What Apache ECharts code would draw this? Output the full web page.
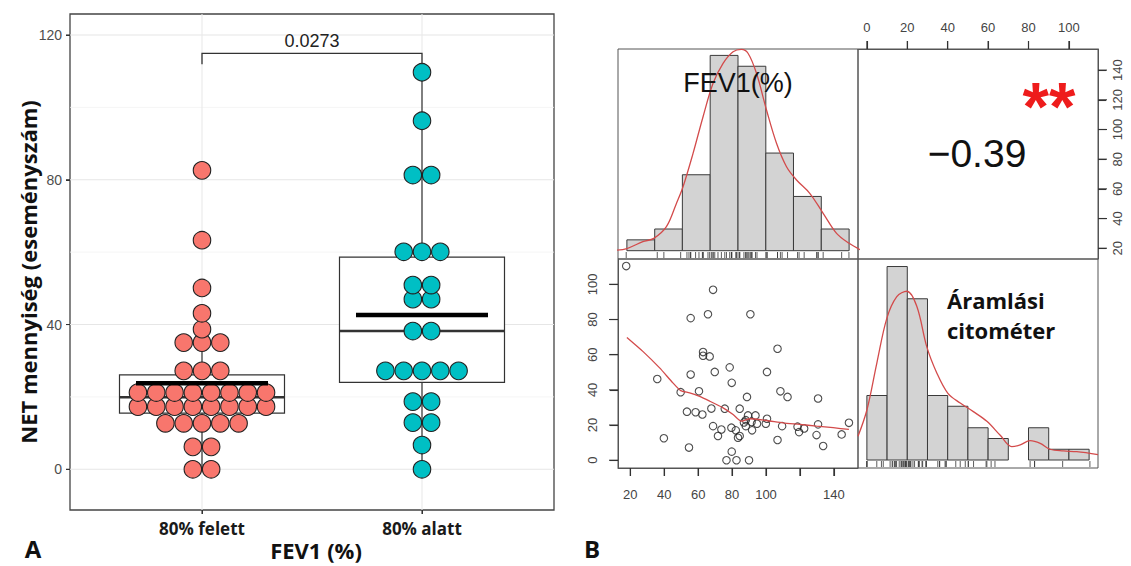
<!DOCTYPE html>
<html><head><meta charset="utf-8">
<script src="https://cdn.jsdelivr.net/npm/echarts@6/dist/echarts.min.js"></script>
<style>html,body{margin:0;padding:0;background:#fff}#c{width:1131px;height:566px}</style>
</head><body><div id="c"></div>
<script>
// ---------- Panel A data ----------
const groups = ['80% felett', '80% alatt'];
const g1Levels = [0, 6.2, 12.7, 17.3, 21.2, 27.2, 35.0, 38.7, 43.1, 50.1, 63.3, 82.6];
const g1Counts = [2, 2, 5, 8, 8, 3, 3, 1, 1, 1, 1, 1];
const g2Levels = [0, 6.7, 12.9, 18.7, 27.2, 38.2, 47.0, 50.9, 60.1, 81.3, 96.3, 109.7];
const g2Counts = [1, 1, 2, 2, 5, 2, 2, 2, 3, 2, 1, 1];
// [lower whisker, Q1, median, Q3, upper whisker]
const boxStats = [[0, 15.5, 19.9, 26.1, 43.1], [0, 24.0, 38.2, 58.6, 109.7]];
const groupMeans = [23.8, 42.6];
const pText = '0.0273';
const bracket = [114.9, 3.0]; // height, tip length
const yTicksA = [0, 40, 80, 120];
const yMinorA = [20, 60, 100];

// ---------- Panel B data ----------
const fev1 = [17.6, 68.8, 55.6, 65.8, 90.8, 106.8, 62.9, 62.9, 66.8, 78.6, 100.6, 69.8, 55.6, 35.9, 79.8, 60.5, 49.7, 108.5, 112.7, 130.7,
  88.8, 53.4, 58.5, 62.5, 67.8, 75.7, 84.5, 93.8, 89.4, 88.1, 100.6, 68.8, 73.7, 79.6, 82.2, 88.1, 94.7, 99.9, 91.8, 109.5,
  118.6, 122.5, 130.7, 148.9, 71.7, 83.5, 84.5, 39.8, 106.8, 119.5, 129.8, 144.6, 54.6, 133.7, 79.8, 76.7, 82.6, 90.0, 87.0, 91.5];
const net = [110.4, 96.9, 80.8, 83.0, 83.0, 63.4, 61.5, 59.4, 59.0, 52.8, 50.2, 50.2, 48.7, 46.2, 44.0, 39.2, 38.7, 39.2, 36.0, 35.1,
  36.0, 27.6, 27.3, 26.0, 29.4, 29.3, 29.3, 25.5, 25.5, 22.8, 23.6, 19.4, 17.5, 18.5, 17.0, 19.4, 20.8, 20.8, 17.0, 19.4,
  19.1, 18.1, 20.4, 21.3, 13.8, 12.8, 13.8, 12.5, 11.5, 16.0, 14.3, 14.7, 7.2, 8.1, 4.9, 0, 0, 0, 21.5, 21.8];
const fevBreaks = [18, 34.4, 50.7, 67.1, 83.5, 99.9, 116.2, 132.6, 149];
const fevCounts = [1, 2, 7, 18, 17, 9, 5, 2];
const netBreaks = [0, 10, 20, 30, 40, 50, 60, 70, 80, 90, 100, 110];
const netCounts = [6, 18, 15, 6, 5, 3, 2, 0, 3, 1, 1];
const fevDensity = [[11.7, 0.05], [18.0, 0.2], [27.4, 0.83], [33.9, 1.14], [41.3, 2.21], [47.2, 4.36], [51.1, 5.89], [57.0, 8.97],
  [62.9, 12.35], [68.8, 15.43], [74.7, 17.27], [80.6, 18.34], [85.5, 18.56], [89.4, 18.2], [94.4, 16.35], [100.3, 12.97],
  [106.2, 9.9], [112.1, 7.74], [118.0, 6.52], [125.8, 5.29], [133.7, 3.45], [141.6, 1.6], [149.0, 0.68], [155.4, 0.1]];
const netDensity = [[-4.4, 2.2], [0, 4.65], [4.9, 9.0], [9.9, 13.2], [14.8, 15.2], [19.8, 15.7], [24.7, 14.3], [29.7, 10.5],
  [34.6, 8.1], [40.1, 6.2], [46.2, 5.3], [52.7, 4.5], [59.4, 3.6], [66, 2.3], [71.7, 1.24], [75.9, 1.4], [80.8, 1.8],
  [85.8, 1.55], [90.7, 1.0], [97.3, 0.84], [103.9, 0.77], [114.4, 0.5]];
const loess = [[18.0, 69.8], [27.4, 61.9], [37.3, 52.5], [45.1, 44.0], [49.7, 39.6], [55.0, 38.3], [60.5, 36.4], [66.8, 33.6],
  [74.7, 29.8], [80.6, 26.0], [85.5, 22.2], [90.4, 23.6], [100.3, 22.6], [110.1, 21.3], [119.9, 20.4], [129.8, 19.4],
  [139.6, 18.5], [148.9, 17.5]];
const corrText = '\u22120.39';
const corrStars = '**';
const fevTicks = [20, 40, 60, 80, 100, 120, 140];
const fevLabels = [20, 40, 60, 80, 100, 140];
const netTicks = [0, 20, 40, 60, 80, 100];
const fevRightTicks = [20, 40, 60, 80, 100, 120, 140];

// ---------- styling / layout ----------
const FEV_RANGE = [12.76, 154.24];
const NET_RANGE = [-4.4, 114.4];
const dotColors = ['#F8766D', '#00BFC4'];
const DOT_D = 18.3;
const RED = '#d34b4b';
const BOLD = '"Open Sans", sans-serif';
const tickFont = { fontFamily: 'Liberation Sans', fontSize: 13, color: '#444' };
const tickStyleB = { show: true, inside: false, length: 8, lineStyle: { color: '#333', width: 1.1 } };
const noLine = { show: false, onZero: false };
const lineB = { show: true, onZero: false, lineStyle: { color: '#555', width: 1 } };

const chart = echarts.init(document.getElementById('c'), null, { renderer: 'svg', width: 1131, height: 566 });

const dotData = [];
g1Levels.forEach((v, i) => dotData.push([1, v, g1Counts[i]]));
g2Levels.forEach((v, i) => dotData.push([2, v, g2Counts[i]]));

const gridLineData = [];
yTicksA.forEach(v => gridLineData.push([1.5, v, 0]));
yMinorA.forEach(v => gridLineData.push([1.5, v, 1]));
groups.forEach((g, i) => gridLineData.push([i + 1, 0, 2]));

function histData(breaks, counts) {
  const d = [];
  counts.forEach((c, i) => { if (c > 0) d.push([(breaks[i] + breaks[i + 1]) / 2, c, breaks[i], breaks[i + 1]]); });
  return d;
}
function histRender(params, api) {
  const p0 = api.coord([api.value(2), 0]);
  const p1 = api.coord([api.value(3), api.value(1)]);
  return { type: 'rect', shape: { x: p0[0], y: p1[1], width: p1[0] - p0[0], height: p0[1] - p1[1] },
    style: { fill: '#d3d3d3', stroke: '#3a3a3a', lineWidth: 1 } };
}
function rugRender(params, api) {
  const p = api.coord([api.value(0), 0]);
  const cs = params.coordSys;
  const yb = cs.y + cs.height;
  return { type: 'line', shape: { x1: p[0], y1: yb - 1, x2: p[0], y2: yb - 7 }, style: { stroke: '#333', lineWidth: 0.8 } };
}
// outward tick marks along one side of a grid, at axis values (reinforces the axis ticks)
function tickSeries(gi, side, values, len, color) {
  const isX = side === 'top' || side === 'bottom';
  return { type: 'custom', xAxisIndex: gi, yAxisIndex: gi, z: 5, silent: true, clip: false,
    data: values.map(v => [v]),
    renderItem: (params, api) => {
      const cs = params.coordSys;
      const v = api.value(0);
      if (isX) {
        const px = api.coord([v, isX ? 0 : v])[0];
        const y0 = side === 'top' ? cs.y : cs.y + cs.height;
        const y1 = side === 'top' ? y0 - len : y0 + len;
        return { type: 'line', shape: { x1: px, y1: y0, x2: px, y2: y1 }, style: { stroke: color, lineWidth: 1.1 } };
      }
      const py = api.coord([0, v])[1];
      const x0 = side === 'left' ? cs.x : cs.x + cs.width;
      const x1 = side === 'left' ? x0 - len : x0 + len;
      return { type: 'line', shape: { x1: x0, y1: py, x2: x1, y2: py }, style: { stroke: color, lineWidth: 1.1 } };
    } };
}
function hiddenAxis(gi, range) {
  return { gridIndex: gi, type: 'value', min: range[0], max: range[1], show: false, axisLine: noLine, splitLine: { show: false } };
}
function txt(x, y, text, font, opts) {
  opts = opts || {};
  const al = opts.align || 'center';
  const el = { type: 'text', x: x, y: y, z: 100,
    style: { text: text, textAlign: al, textVerticalAlign: 'middle', align: al, verticalAlign: 'middle', font: font, fill: opts.fill || '#111' } };
  if (opts.rotation) el.rotation = opts.rotation;
  return el;
}
function ticksB(vals) { return Object.assign({ customValues: vals }, tickStyleB); }

const option = {
  backgroundColor: '#fff',
  animation: false,
  grid: [
    { left: 70, top: 14, width: 484, height: 496, show: true, borderColor: '#444', borderWidth: 1.3, backgroundColor: 'transparent' },
    { left: 618, top: 49, width: 240, height: 210, show: true, borderColor: '#555', borderWidth: 1 },
    { left: 858, top: 49, width: 240, height: 210, show: true, borderColor: '#555', borderWidth: 1 },
    { left: 618, top: 259, width: 240, height: 209, show: true, borderColor: '#555', borderWidth: 1 },
    { left: 858, top: 259, width: 240, height: 209, show: true, borderColor: '#555', borderWidth: 1 }
  ],
  xAxis: [
    { gridIndex: 0, type: 'value', min: 0.4, max: 2.6, axisLine: noLine, splitLine: { show: false },
      axisTick: { show: true, customValues: [1, 2], length: 4, lineStyle: { color: '#333' } },
      axisLabel: { customValues: [1, 2], formatter: v => groups[Math.round(v) - 1], margin: 10,
        fontFamily: BOLD, fontWeight: 'bold', fontSize: 17, color: '#1a1a1a' } },
    hiddenAxis(1, FEV_RANGE),
    { gridIndex: 2, type: 'value', position: 'top', min: NET_RANGE[0], max: NET_RANGE[1], axisLine: lineB, splitLine: { show: false },
      axisTick: ticksB(netTicks),
      axisLabel: Object.assign({ customValues: netTicks, margin: 15 }, tickFont) },
    { gridIndex: 3, type: 'value', position: 'bottom', min: FEV_RANGE[0], max: FEV_RANGE[1], axisLine: lineB, splitLine: { show: false },
      axisTick: ticksB(fevTicks),
      axisLabel: Object.assign({ customValues: fevLabels, margin: 20 }, tickFont) },
    hiddenAxis(4, NET_RANGE)
  ],
  yAxis: [
    { gridIndex: 0, type: 'value', min: -11.25, max: 125.8, axisLine: noLine, splitLine: { show: false },
      axisTick: { show: true, customValues: yTicksA, length: 4, lineStyle: { color: '#333' } },
      axisLabel: { customValues: yTicksA, margin: 8, fontFamily: 'Liberation Sans', fontSize: 14, color: '#4d4d4d' } },
    hiddenAxis(1, [-0.765, 18.59]),
    { gridIndex: 2, type: 'value', position: 'right', min: FEV_RANGE[0], max: FEV_RANGE[1], axisLine: lineB, splitLine: { show: false },
      axisTick: ticksB(fevRightTicks),
      axisLabel: Object.assign({ customValues: fevRightTicks, margin: 13, rotate: 90 }, tickFont) },
    { gridIndex: 3, type: 'value', position: 'left', min: NET_RANGE[0], max: NET_RANGE[1], axisLine: lineB, splitLine: { show: false },
      axisTick: ticksB(netTicks),
      axisLabel: Object.assign({ customValues: netTicks, margin: 19, rotate: 90 }, tickFont) },
    hiddenAxis(4, [-0.744, 18.70])
  ],
  series: [
    // panel A grid lines
    { type: 'custom', xAxisIndex: 0, yAxisIndex: 0, z: 1, silent: true, data: gridLineData,
      renderItem: (params, api) => {
        const kind = api.value(2);
        const cs = params.coordSys;
        if (kind === 2) {
          const p = api.coord([api.value(0), 0]);
          return { type: 'line', shape: { x1: p[0], y1: cs.y, x2: p[0], y2: cs.y + cs.height }, style: { stroke: '#e9e9e9', lineWidth: 1.1 } };
        }
        const p = api.coord([1.5, api.value(1)]);
        return { type: 'line', shape: { x1: cs.x, y1: p[1], x2: cs.x + cs.width, y2: p[1] },
          style: { stroke: kind === 0 ? '#e6e6e6' : '#f2f2f2', lineWidth: kind === 0 ? 1.1 : 0.8 } };
      } },
    // boxes
    { type: 'custom', xAxisIndex: 0, yAxisIndex: 0, z: 2, silent: true,
      data: boxStats.map((s, i) => [i + 1].concat(s)),
      renderItem: (params, api) => {
        const x = api.value(0);
        const c = api.coord([x, api.value(3)]);
        const lw = api.coord([x, api.value(1)]), q1 = api.coord([x, api.value(2)]);
        const q3 = api.coord([x, api.value(4)]), uw = api.coord([x, api.value(5)]);
        const half = api.size([0.75, 0])[0] / 2;
        const st = { stroke: '#333', lineWidth: 1.2 };
        return { type: 'group', children: [
          { type: 'line', shape: { x1: c[0], y1: q3[1], x2: c[0], y2: uw[1] }, style: st },
          { type: 'line', shape: { x1: c[0], y1: q1[1], x2: c[0], y2: lw[1] }, style: st },
          { type: 'rect', shape: { x: c[0] - half, y: q3[1], width: 2 * half, height: q1[1] - q3[1] }, style: { fill: '#fff', stroke: '#333', lineWidth: 1.2 } },
          { type: 'line', shape: { x1: c[0] - half, y1: c[1], x2: c[0] + half, y2: c[1] }, style: { stroke: '#333', lineWidth: 2.4 } }
        ] };
      } },
    // dots
    { type: 'custom', xAxisIndex: 0, yAxisIndex: 0, z: 3, silent: true, data: dotData,
      renderItem: (params, api) => {
        const g = api.value(0), n = api.value(2);
        const c = api.coord([g, api.value(1)]);
        const ch = [];
        for (let i = 0; i < n; i++) {
          ch.push({ type: 'circle', shape: { cx: c[0] + (i - (n - 1) / 2) * DOT_D, cy: c[1], r: DOT_D / 2 - 0.4 },
            style: { fill: dotColors[g - 1], stroke: '#222', lineWidth: 1.1 } });
        }
        return { type: 'group', children: ch };
      } },
    // means
    { type: 'custom', xAxisIndex: 0, yAxisIndex: 0, z: 4, silent: true,
      data: groupMeans.map((m, i) => [i + 1, m]),
      renderItem: (params, api) => {
        const c = api.coord([api.value(0), api.value(1)]);
        const half = api.size([0.6, 0])[0] / 2;
        return { type: 'line', shape: { x1: c[0] - half, y1: c[1], x2: c[0] + half, y2: c[1] }, style: { stroke: '#000', lineWidth: 4.5 } };
      } },
    // significance bracket
    { type: 'custom', xAxisIndex: 0, yAxisIndex: 0, z: 4, silent: true,
      data: [[1, bracket[0], 2, bracket[1]]],
      renderItem: (params, api) => {
        const a = api.coord([api.value(0), api.value(1)]);
        const b = api.coord([api.value(2), api.value(1)]);
        const t = api.coord([api.value(0), api.value(1) - api.value(3)]);
        return { type: 'group', children: [
          { type: 'polyline', shape: { points: [[a[0], t[1]], [a[0], a[1]], [b[0], b[1]], [b[0], t[1]]] }, style: { stroke: '#333', lineWidth: 1.3, fill: null } },
          { type: 'text', x: (a[0] + b[0]) / 2, y: a[1] - 3,
            style: { text: pText, textAlign: 'center', textVerticalAlign: 'bottom', align: 'center', verticalAlign: 'bottom',
              font: '18px "Liberation Sans"', fill: '#222' } }
        ] };
      } },
    tickSeries(0, 'left', yTicksA, 4, '#333'),
    tickSeries(0, 'bottom', [1, 2], 4, '#333'),
    // FEV1 histogram
    { type: 'custom', xAxisIndex: 1, yAxisIndex: 1, z: 2, silent: true, data: histData(fevBreaks, fevCounts), renderItem: histRender },
    { type: 'line', xAxisIndex: 1, yAxisIndex: 1, z: 3, silent: true, data: fevDensity, smooth: 0.35, showSymbol: false,
      lineStyle: { color: RED, width: 1.3 } },
    { type: 'custom', xAxisIndex: 1, yAxisIndex: 1, z: 3, silent: true, data: fev1.map(v => [v, 0]), renderItem: rugRender },
    // correlation panel ticks
    tickSeries(2, 'top', netTicks, 8, '#333'),
    tickSeries(2, 'right', fevRightTicks, 9, '#333'),
    // scatter
    { type: 'scatter', xAxisIndex: 3, yAxisIndex: 3, z: 2, silent: true, data: fev1.map((v, i) => [v, net[i]]),
      symbol: 'circle', symbolSize: 7.5, itemStyle: { color: 'rgba(0,0,0,0)', borderColor: '#222', borderWidth: 1.1 } },
    { type: 'line', xAxisIndex: 3, yAxisIndex: 3, z: 3, silent: true, data: loess, smooth: 0.2, showSymbol: false,
      lineStyle: { color: RED, width: 1.3 } },
    tickSeries(3, 'bottom', fevTicks, 8, '#333'),
    tickSeries(3, 'left', netTicks, 9, '#333'),
    // NET histogram
    { type: 'custom', xAxisIndex: 4, yAxisIndex: 4, z: 2, silent: true, data: histData(netBreaks, netCounts), renderItem: histRender },
    { type: 'line', xAxisIndex: 4, yAxisIndex: 4, z: 3, silent: true, data: netDensity, smooth: 0.35, showSymbol: false,
      lineStyle: { color: RED, width: 1.3 } },
    { type: 'custom', xAxisIndex: 4, yAxisIndex: 4, z: 3, silent: true, data: net.map(v => [v, 0]), renderItem: rugRender }
  ],
  graphic: [
    txt(28, 272, 'NET mennyiség (eseményszám)', 'bold 22px ' + BOLD, { rotation: Math.PI / 2 }),
    txt(316, 550, 'FEV1 (%)', 'bold 22px ' + BOLD),
    txt(33, 548, 'A', 'bold 24px ' + BOLD),
    txt(592, 548, 'B', 'bold 24px ' + BOLD),
    txt(738, 83, 'FEV1(%)', '27px "Liberation Sans"'),
    txt(977, 153, corrText, '39px "Liberation Sans"'),
    txt(1049, 106, corrStars, 'bold 68px "Liberation Sans"', { fill: '#ee1c1c' }),
    txt(947, 300, 'Áramlási', 'bold 22px ' + BOLD, { align: 'left' }),
    txt(947, 330, 'citométer', 'bold 22px ' + BOLD, { align: 'left' })
  ]
};
chart.setOption(option);
</script></body></html>
